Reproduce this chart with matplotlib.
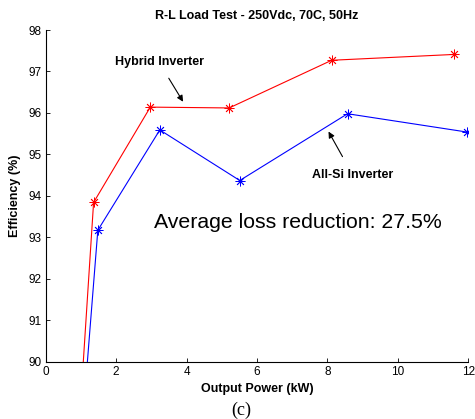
import matplotlib
matplotlib.use("Agg")
import matplotlib.pyplot as plt

# ── Data ────────────────────────────────────────────────────────────────────
hybrid_kw = [0.90, 1.36, 2.97, 5.21, 8.12, 11.58]
hybrid_eff = [87.8, 93.84, 96.14, 96.12, 97.27, 97.41]

allsi_kw = [0.95, 1.48, 3.24, 5.51, 8.57, 11.95]
allsi_eff = [87.5, 93.17, 95.59, 94.37, 95.98, 95.54]

x_ticks = [0, 2, 4, 6, 8, 10, 12]
y_ticks = [90, 91, 92, 93, 94, 95, 96, 97, 98]

plt.rcParams.update({
    "font.family": ["Liberation Sans", "DejaVu Sans"],
    "font.size": 8,
})

fig = plt.figure(figsize=(4.75, 4.19), dpi=100)
ax = fig.add_axes([0.0962, 0.1368, 0.8898, 0.7916])

asterisk = (8, 2, 0)
ax.plot(hybrid_kw, hybrid_eff, color="red", lw=0.8, marker=asterisk,
        markersize=7, markeredgewidth=0.6)
ax.plot(allsi_kw, allsi_eff, color="blue", lw=0.8, marker=asterisk,
        markersize=7, markeredgewidth=0.6)

ax.set_xlim(0, 12)
ax.set_ylim(90, 98)
ax.set_xticks(x_ticks)
ax.set_yticks(y_ticks)
ax.tick_params(direction="in", length=3, width=0.6, labelsize=8.5, pad=3)

for side in ["top", "right"]:
    ax.spines[side].set_visible(False)
for side in ["left", "bottom"]:
    ax.spines[side].set_linewidth(0.8)

ax.set_title("R-L Load Test - 250Vdc, 70C, 50Hz", fontsize=9,
             fontweight="bold", pad=8)
ax.set_xlabel("Output Power (kW)", fontsize=9, fontweight="bold", labelpad=4)
ax.set_ylabel("Efficiency (%)", fontsize=9, fontweight="bold", labelpad=5)

arrow = dict(arrowstyle="-|>", color="black", lw=0.8, mutation_scale=9)
ax.annotate("Hybrid Inverter", xy=(3.9, 96.27), xytext=(3.22, 97.22),
            fontsize=9, fontweight="bold", ha="center", va="center",
            arrowprops=dict(arrow, shrinkA=6, shrinkB=0))
ax.annotate("All-Si Inverter", xy=(8.03, 95.55), xytext=(8.72, 94.5),
            fontsize=9, fontweight="bold", ha="center", va="center",
            arrowprops=dict(arrow, shrinkA=8, shrinkB=0))

# note placed in data coords, just above the 93 % gridline
ax.text(7.15, 93.35, "Average loss reduction: 27.5%", fontsize=15.3,
        ha="center", va="center")

fig.text(0.507, 0.021, "(c)", fontsize=13, ha="center", va="center",
         family=["Liberation Serif", "DejaVu Serif"])

fig.savefig("out.png", dpi=100)
